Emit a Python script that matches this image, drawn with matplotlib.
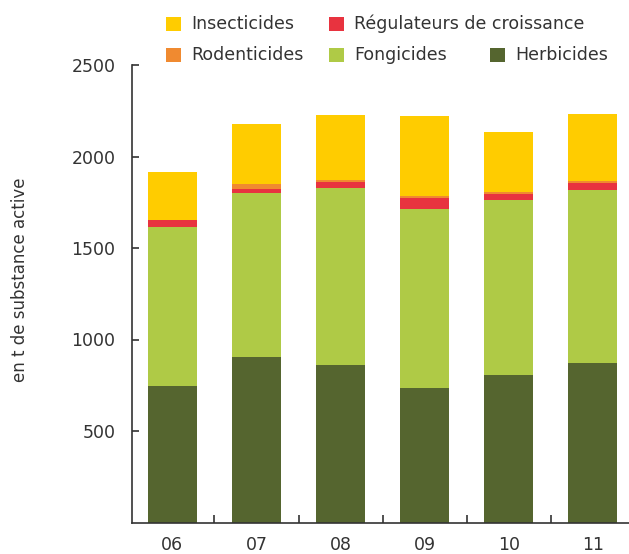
import numpy as np
import matplotlib.pyplot as plt
from matplotlib.patches import Rectangle

# Data (t of active substance)
years = ['06', '07', '08', '09', '10', '11']
herbicides = [745, 903, 860, 733, 805, 870]
fongicides = [870, 897, 967, 978, 957, 946]
regulateurs = [38, 22, 33, 60, 33, 38]
rodenticides = [0, 27, 11, 11, 11, 11]
insecticides = [262, 328, 355, 438, 328, 367]

series = [
    ('Herbicides', herbicides, '#55652f'),
    ('Fongicides', fongicides, '#afca46'),
    ('Régulateurs de croissance', regulateurs, '#e8333f'),
    ('Rodenticides', rodenticides, '#f08a30'),
    ('Insecticides', insecticides, '#ffcc00'),
]

plt.rcParams['font.family'] = 'DejaVu Sans'
text_color = '#333333'

fig = plt.figure(figsize=(6.29, 5.54), dpi=100)
ax = fig.add_axes([132 / 629, 31.5 / 554, 1 - 132 / 629, (522.5 - 65) / 554])

x = np.arange(len(years))
bottom = np.zeros(len(years))
for name, vals, color in series:
    ax.bar(x, vals, bottom=bottom, width=0.58, color=color, label=name, linewidth=0)
    bottom += np.array(vals)

ax.set_xlim(-0.48, 5.43)
ax.set_ylim(0, 2500)
ax.set_xticks(x)
ax.set_xticklabels(years)
ax.set_xticks(x[:-1] + 0.5, minor=True)
ax.set_yticks([500, 1000, 1500, 2000, 2500])

for s in ['top', 'right']:
    ax.spines[s].set_visible(False)
for s in ['left', 'bottom']:
    ax.spines[s].set_color(text_color)
    ax.spines[s].set_linewidth(1.2)

ax.tick_params(axis='y', direction='in', length=5, width=1.2, color=text_color,
               labelsize=12.5, labelcolor=text_color, pad=12)
ax.tick_params(axis='x', which='major', length=0, labelsize=12.5,
               labelcolor=text_color, pad=10)
ax.tick_params(axis='x', which='minor', direction='in', length=6, width=1.2,
               color=text_color)

fig.text(20 / 629, 1 - 280 / 554, 'en t de substance active', rotation=90,
         ha='center', va='center', fontsize=12, color=text_color)

# Legend laid out by hand (two irregular rows)
legend_pos = {
    'Insecticides': (166, 24),
    'Régulateurs de croissance': (329, 24),
    'Rodenticides': (166, 55),
    'Fongicides': (329, 55),
    'Herbicides': (490, 55),
}
colors = {name: color for name, _, color in series}
W, H = 629, 554
for name, (px, py) in legend_pos.items():
    fig.add_artist(Rectangle((px / W, 1 - (py + 7) / H), 15 / W, 14 / H,
                             transform=fig.transFigure, color=colors[name], lw=0))
    fig.text((px + 25) / W, 1 - py / H, name, ha='left', va='center',
             fontsize=12.5, color=text_color)

fig.savefig('out.png', dpi=100)
